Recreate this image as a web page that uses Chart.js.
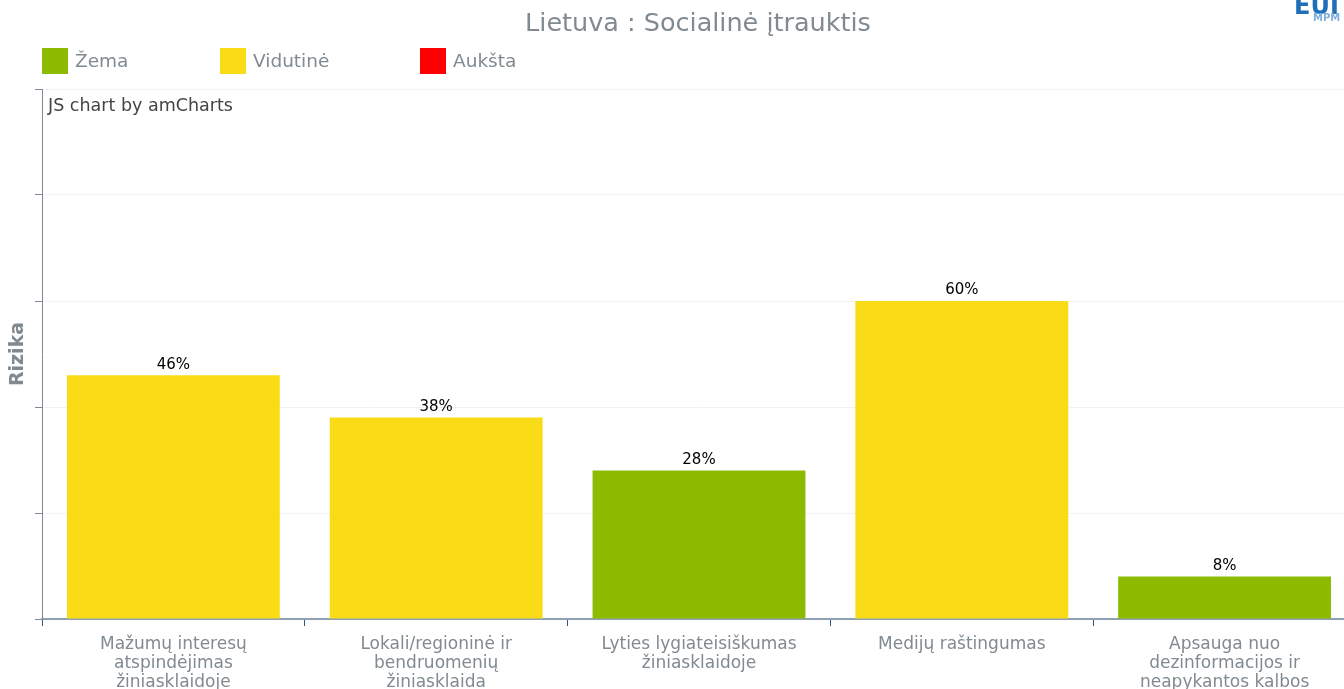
<!DOCTYPE html>
<html>
<head>
<meta charset="utf-8">
<script src="https://cdn.jsdelivr.net/npm/chart.js@4/dist/chart.umd.min.js"></script>
<style>
  html, body { margin: 0; padding: 0; background: #fff; overflow: hidden; width: 1344px; height: 689px; }
  body { position: relative; font-family: "DejaVu Sans", sans-serif; }
  #wrap { position: absolute; left: 0; top: 0; width: 1358px; height: 689px; }
  .title { position: absolute; left: 0; width: 1396px; top: 7px; text-align: center; font-size: 25.5px; color: #808a91; }
  .legend { position: absolute; top: 48px; left: 42px; height: 26px; }
  .item { position: absolute; top: 0; white-space: nowrap; font-size: 18.5px; color: #808a91; line-height: 26px; }
  .item span { display: inline-block; width: 26px; height: 26px; vertical-align: top; margin-right: 7px; }
  .credit { position: absolute; left: 48px; top: 95px; font-size: 17.5px; color: #444; }
  .logo { position: absolute; left: 1294px; top: -8px; font-weight: bold; font-size: 24px; color: #1f6fb8; }
  .logo2 { position: absolute; left: 1313px; top: 12px; font-size: 10px; color: #7fb0dd; font-weight: bold; }
</style>
</head>
<body>
<div id="wrap"><canvas id="chart" width="1358" height="689"></canvas></div>
<div class="title">Lietuva : Socialinė įtrauktis</div>
<div class="legend">
  <div class="item" style="left:0px"><span style="background:#8cbb00"></span>Žema</div>
  <div class="item" style="left:178px"><span style="background:#fadc16"></span>Vidutinė</div>
  <div class="item" style="left:378px"><span style="background:#ff0000"></span>Aukšta</div>
</div>
<div class="credit">JS chart by amCharts</div>
<div class="logo">EUI</div>
<div class="logo2">MPM</div>
<script>
const categories = [
    ['Mažumų interesų', 'atspindėjimas', 'žiniasklaidoje'],
    ['Lokali/regioninė ir', 'bendruomenių', 'žiniasklaida'],
    ['Lyties lygiateisiškumas', 'žiniasklaidoje'],
    ['Medijų raštingumas'],
    ['Apsauga nuo', 'dezinformacijos ir', 'neapykantos kalbos']
];
const riskValues = [46, 38, 28, 60, 8];
const riskLevels = ['Vidutinė', 'Vidutinė', 'Žema', 'Vidutinė', 'Žema'];
const levelColors = { 'Žema': '#8cbb00', 'Vidutinė': '#fadc16', 'Aukšta': '#ff0000' };

const valueLabels = {
    id: 'valueLabels',
    afterDatasetsDraw(chart) {
        const ctx = chart.ctx;
        const meta = chart.getDatasetMeta(0);
        ctx.save();
        ctx.font = '15px "DejaVu Sans", sans-serif';
        ctx.fillStyle = '#000';
        ctx.textAlign = 'center';
        ctx.textBaseline = 'bottom';
        meta.data.forEach((bar, i) => {
            ctx.fillText(riskValues[i] + '%', bar.x, bar.y - 3);
        });
        ctx.restore();
    }
};

const ctx = document.getElementById('chart').getContext('2d');
const chart = new Chart(ctx, {
    type: 'bar',
    data: {
        labels: categories,
        datasets: [{
            label: 'Rizika',
            data: riskValues,
            backgroundColor: riskLevels.map(l => levelColors[l]),
            barPercentage: 0.81,
            categoryPercentage: 1
        }]
    },
    options: {
        responsive: false,
        animation: false,
        layout: { padding: { top: 89, right: 2, left: 0, bottom: 0 } },
        plugins: {
            legend: { display: false },
            tooltip: { enabled: false }
        },
        scales: {
            x: {
                grid: { drawOnChartArea: false, drawTicks: true, tickLength: 7, tickColor: '#2a5680' },
                border: { color: '#8fa0b3', width: 2 },
                ticks: {
                    color: '#808a91',
                    font: { family: 'DejaVu Sans', size: 17, lineHeight: 1.12 },
                    padding: 9,
                    maxRotation: 0,
                    autoSkip: false
                },
                afterFit(scale) { scale.height = 70; }
            },
            y: {
                min: 0,
                max: 100,
                ticks: { stepSize: 20, display: false },
                grid: { color: '#f2f2f2', tickColor: '#7f8a94', tickLength: 7 },
                border: { color: '#7f8a94', width: 1 },
                title: {
                    display: true,
                    text: 'Rizika',
                    color: '#808a91',
                    font: { family: 'DejaVu Sans', size: 19, weight: 'bold' },
                    padding: { top: 7, bottom: 0 }
                },
                afterFit(scale) { scale.width = 42; }
            }
        }
    },
    plugins: [valueLabels]
});
</script>
</body>
</html>
